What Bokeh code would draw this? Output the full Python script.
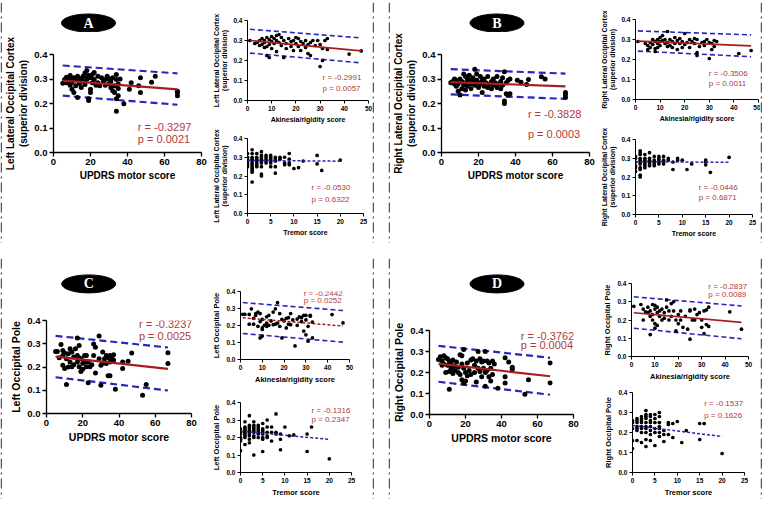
from bokeh.plotting import figure
from bokeh.layouts import row, column
from bokeh.models import Range1d, FixedTicker, NumeralTickFormatter, Label, Spacer
from bokeh.core.properties import value
from bokeh.embed import file_html
from bokeh.resources import INLINE

SANS = "Liberation Sans"
SERIF = "Liberation Serif"
RED_LINE = "#a81c1c"
RED_TEXT = "#b23a3a"
BLUE = "#2626b8"
BORDER = "#555555"

Y_TICKS = [0, 0.1, 0.2, 0.3, 0.4]
UPDRS_TICKS = [0, 20, 40, 60, 80]
AKIN_TICKS = [0, 10, 20, 30, 40, 50]
TREM_TICKS = [0, 5, 10, 15, 20, 25]

# ---------------- data: (score, value) pairs ----------------
A_updrs = [(5,.283),(6,.298),(7,.307),(7,.285),(8,.291),(8,.30),(9,.274),(9,.314),(10,.258),(10,.287),
           (10,.30),(11,.245),(11,.305),(12,.272),(12,.298),(13,.225),(13,.311),(14,.282),(14,.30),(15,.301),
           (15,.265),(16,.291),(16,.311),(17,.325),(17,.278),(18,.335),(18,.298),(18,.305),(19,.219),(19,.212),
           (19,.314),(20,.258),(20,.245),(20,.305),(21,.285),(21,.318),(22,.327),(22,.298),(23,.274),(24,.311),
           (24,.285),(25,.272),(26,.305),(27,.291),(28,.274),(28,.298),(29,.311),(30,.282),(30,.301),(31,.265),
           (31,.291),(32,.252),(32,.305),(33,.272),(33,.245),(34,.168),(34,.219),(34,.298),(34,.318),(35,.261),
           (35,.232),(35,.28),(36,.30),(38,.199),(41,.258),(42,.285),(46,.272),(47,.305),(47,.245),(53,.287),
           (55,.311),(67,.245),(67,.232),(67,.25)]
A_akin = [(1,.30),(3,.285),(4,.29),(5,.30),(5,.275),(6,.31),(6,.28),(7,.265),(7,.30),(7,.29),(8,.315),(8,.27),
          (8,.225),(9,.305),(9,.28),(9,.215),(10,.32),(10,.295),(10,.26),(11,.31),(11,.285),(12,.325),(12,.30),
          (12,.245),(13,.33),(13,.29),(14,.275),(14,.315),(15,.30),(15,.215),(16,.285),(16,.26),(17,.31),(18,.295),
          (18,.27),(19,.30),(19,.25),(20,.285),(20,.315),(21,.31),(21,.27),(22,.295),(22,.25),(23,.285),(24,.30),
          (24,.265),(25,.28),(25,.235),(26,.29),(26,.225),(27,.30),(28,.275),(29,.30),(30,.28),(30,.17),(31,.20),
          (31,.26),(32,.30),(33,.255),(33,.31),(42,.232),(47,.248)]
A_trem = [(0,[.32,.30,.29,.28,.27,.26,.25]),(1,[.34,.32,.30,.29,.28,.27,.26,.25,.24,.23,.22,.168]),
          (2,[.32,.30,.29,.28,.27,.26,.25]),(3,[.33,.31,.30,.29,.28,.27,.25,.21,.20]),(4,[.31,.30,.29,.28,.27]),
          (5,[.31,.30,.29,.28,.27,.25]),(6,[.30,.29,.28,.25,.215]),(7,[.30,.29]),(8,[.30,.27,.26]),
          (9,[.32,.29,.27,.26]),(10,[.24]),(11,[.245]),(12,[.28]),(15,[.31,.265]),(16,[.23]),(20,[.285])]

B_updrs = [(5,.285),(6,.29),(7,.28),(7,.30),(8,.27),(8,.295),(9,.25),(9,.28),(10,.235),(10,.30),(11,.26),(11,.29),
           (12,.32),(12,.275),(13,.31),(13,.285),(13,.255),(14,.30),(14,.27),(15,.295),(15,.315),(16,.28),(16,.26),
           (17,.305),(17,.29),(18,.34),(18,.275),(19,.32),(19,.295),(20,.285),(20,.265),(21,.31),(21,.28),(22,.295),
           (22,.245),(23,.27),(23,.30),(24,.285),(25,.265),(25,.31),(26,.28),(27,.29),(27,.26),(28,.30),(28,.275),
           (29,.285),(30,.265),(30,.31),(31,.28),(32,.29),(32,.26),(33,.305),(33,.275),(34,.33),(34,.21),(34,.20),
           (35,.24),(35,.285),(36,.235),(36,.295),(37,.24),(37,.30),(41,.295),(43,.287),(46,.278),(47,.298),
           (54,.309),(56,.30),(67,.245),(67,.236),(67,.225)]
B_akin = [(1,.29),(4,.28),(5,.25),(5,.27),(6,.285),(6,.26),(7,.30),(7,.275),(8,.29),(8,.255),(8,.24),(9,.30),
          (9,.28),(9,.26),(10,.31),(10,.29),(10,.27),(11,.295),(11,.32),(12,.28),(12,.30),(13,.34),(13,.285),
          (13,.265),(14,.30),(14,.27),(15,.29),(15,.26),(16,.31),(16,.28),(17,.295),(17,.25),(18,.305),(18,.28),
          (19,.29),(19,.26),(20,.33),(20,.275),(21,.285),(22,.30),(22,.26),(23,.29),(24,.305),(24,.28),(25,.30),
          (25,.235),(25,.22),(26,.265),(27,.285),(28,.29),(28,.27),(29,.30),(30,.285),(30,.205),(31,.28),(31,.25),
          (32,.295),(32,.265),(33,.29),(42,.23),(47,.245)]
B_trem = [(0,[.31,.30,.28,.26,.25,.23]),(1,[.34,.33,.32,.30,.29,.28,.27,.25,.24,.21,.20]),
          (2,[.32,.30,.29,.28,.27,.26,.25]),(3,[.33,.30,.29,.28,.27,.26]),(4,[.31,.29,.28,.27,.26]),
          (5,[.31,.30,.29,.28,.27]),(6,[.31,.29,.28,.27]),(7,[.30,.29]),(8,[.28,.24]),(9,[.30,.29]),
          (10,[.29]),(11,[.24]),(12,[.27]),(15,[.29,.28,.265]),(16,[.225]),(20,[.305])]

C_updrs = [(5,.267),(6,.267),(7,.24),(8,.297),(9,.25),(9,.208),(9,.271),(10,.194),(10,.26),(11,.125),(11,.236),
           (12,.257),(12,.20),(13,.278),(13,.222),(14,.201),(14,.264),(15,.243),(15,.21),(16,.278),(17,.325),
           (17,.222),(17,.25),(18,.201),(18,.292),(18,.24),(19,.236),(19,.181),(20,.215),(20,.19),(21,.25),
           (21,.222),(22,.201),(22,.25),(23,.132),(23,.222),(24,.201),(25,.21),(26,.299),(26,.25),(27,.174),
           (27,.285),(29,.333),(29,.236),(30,.208),(30,.122),(31,.215),(31,.264),(32,.236),(32,.22),(33,.25),
           (33,.215),(34,.162),(34,.24),(35,.162),(35,.222),(35,.25),(36,.236),(37,.253),(37,.23),(38,.104),
           (42,.194),(42,.222),(45,.225),(47,.26),(53,.078),(55,.125),(67,.261),(67,.215)]
C_akin = [(1,.266),(2,.266),(4,.265),(4,.208),(5,.298),(6,.242),(6,.208),(7,.27),(7,.26),(8,.279),(8,.195),
          (9,.127),(9,.223),(9,.27),(10,.177),(10,.186),(10,.236),(10,.138),(11,.201),(12,.251),(12,.195),
          (12,.214),(13,.26),(13,.201),(14,.227),(15,.205),(15,.279),(16,.298),(16,.208),(17,.335),(17,.214),
          (18,.195),(18,.27),(19,.127),(19,.236),(20,.227),(21,.242),(21,.186),(22,.208),(22,.246),(23,.27),
          (23,.205),(24,.233),(25,.08),(26,.238),(26,.201),(27,.251),(28,.223),(28,.246),(29,.26),(29,.167),
          (30,.233),(30,.26),(30,.145),(31,.108),(31,.195),(32,.26),(32,.255),(33,.22),(33,.127),(42,.264),(47,.215)]
C_trem = [(0,[.25,.23,.22,.20,.19,.18,.125]),(1,[.29,.26,.25,.24,.23,.22,.21,.20,.16]),
          (2,[.325,.27,.26,.25,.24,.23,.22,.21,.19,.17]),(3,[.29,.27,.26,.25,.24,.23,.21,.20,.10]),
          (4,[.27,.26,.25,.24,.23,.22,.20]),(5,[.28,.25,.24,.23,.22,.20,.19,.12]),(6,[.30,.26,.23,.21,.20]),
          (7,[.26,.23,.18]),(8,[.335,.23,.22]),(9,[.22,.19,.13]),(10,[.26]),(11,[.21]),(12,[.215]),
          (15,[.22,.12]),(16,[.26]),(20,[.078])]

D_updrs = [(5,.262),(6,.275),(7,.255),(7,.235),(8,.28),(8,.24),(9,.27),(9,.20),(10,.265),(10,.235),(11,.12),
           (11,.255),(11,.205),(12,.245),(12,.22),(13,.26),(13,.195),(14,.23),(14,.21),(15,.25),(16,.225),(16,.20),
           (17,.285),(17,.19),(18,.28),(18,.24),(18,.165),(19,.31),(19,.22),(19,.15),(20,.20),(20,.16),(21,.245),
           (21,.185),(22,.21),(23,.26),(23,.19),(24,.265),(25,.235),(25,.20),(26,.155),(26,.255),(27,.30),(27,.22),
           (28,.265),(28,.205),(29,.25),(29,.18),(30,.255),(30,.22),(31,.30),(31,.135),(31,.20),(32,.255),(32,.21),
           (33,.245),(33,.18),(34,.22),(34,.16),(35,.255),(35,.19),(36,.24),(38,.125),(42,.27),(42,.18),(42,.15),
           (44,.25),(46,.225),(46,.215),(53,.097),(55,.165),(67,.245),(67,.15)]
D_akin = [(1,.275),(4,.285),(5,.26),(5,.20),(6,.245),(7,.27),(7,.24),(8,.22),(8,.12),(8,.25),(9,.285),(9,.23),
          (9,.20),(10,.28),(10,.26),(10,.155),(10,.18),(11,.27),(11,.24),(11,.17),(12,.25),(12,.22),(13,.26),
          (13,.20),(14,.24),(14,.21),(15,.31),(15,.27),(16,.20),(16,.25),(17,.29),(17,.22),(18,.30),(18,.25),
          (19,.14),(19,.20),(20,.23),(20,.18),(21,.25),(21,.20),(22,.16),(23,.22),(24,.15),(25,.255),(25,.25),
          (25,.095),(26,.20),(27,.26),(27,.20),(28,.23),(29,.24),(30,.16),(30,.20),(31,.125),(31,.25),(32,.255),
          (32,.175),(33,.27),(33,.165),(42,.245),(47,.15)]
D_trem = [(0,[.26,.25,.22,.16,.12]),(1,[.27,.26,.25,.23,.22,.21,.16]),(2,[.28,.27,.26,.25,.23,.22,.20,.15]),
          (3,[.31,.29,.28,.27,.25,.23,.22,.20,.165,.13]),(4,[.29,.28,.26,.25,.23,.21,.19,.16]),
          (5,[.29,.27,.25,.22,.20,.135]),(6,[.30,.28,.25,.23,.22,.20,.18]),(7,[.21,.19,.155]),(8,[.25,.24,.19]),
          (9,[.245,.175]),(10,[.255]),(11,[.15]),(12,[.21]),(15,[.245,.165]),(16,[.245]),(20,[.095])]

# regression line and 95% prediction band end points
A_updrs_fit = dict(x=[5, 67], fit=[0.293, 0.258], up=[0.355, 0.323], lo=[0.232, 0.195])
A_akin_fit = dict(x=[1, 47], fit=[0.300, 0.248], up=[0.356, 0.313], lo=[0.237, 0.188])
A_trem_fit = dict(x=[0, 20], fit=[0.283, 0.279])
B_updrs_fit = dict(x=[5, 67], fit=[0.287, 0.270], up=[0.340, 0.322], lo=[0.237, 0.219])
B_akin_fit = dict(x=[1, 47], fit=[0.292, 0.268], up=[0.343, 0.323], lo=[0.242, 0.214])
B_trem_fit = dict(x=[0, 20], fit=[0.282, 0.278])
C_updrs_fit = dict(x=[5, 67], fit=[0.245, 0.192], up=[0.334, 0.284], lo=[0.156, 0.099])
C_akin_fit = dict(x=[1, 47], fit=[0.245, 0.197], up=[0.335, 0.288], lo=[0.153, 0.102])
C_trem_fit = dict(x=[0, 20], fit=[0.237, 0.189])
D_updrs_fit = dict(x=[5, 67], fit=[0.242, 0.182], up=[0.327, 0.270], lo=[0.156, 0.094])
D_akin_fit = dict(x=[1, 47], fit=[0.240, 0.187], up=[0.327, 0.277], lo=[0.155, 0.097])
D_trem_fit = dict(x=[0, 20], fit=[0.235, 0.180])

A_stats = [("r = -0.3297", "p = 0.0021"), ("r = -0.2991", "p = 0.0057"), ("r = -0.0530", "p = 0.6322")]
B_stats = [("r = -0.3828", "p = 0.0003"), ("r = -0.3506", "p = 0.0011"), ("r = -0.0446", "p = 0.6871")]
C_stats = [("r = -0.3237", "p = 0.0025"), ("r = -0.2442", "p = 0.0252"), ("r = -0.1316", "p = 0.2347")]
D_stats = [("r = -0.3762", "p = 0.0004"), ("r = -0.2837", "p = 0.0089"), ("r = -0.1537", "p = 0.1626")]

X_LABELS = ["UPDRS motor score", "Akinesia/rigidity score", "Tremor score"]
Y_LABELS = {"A": "Left Lateral Occipital Cortex\n(superior division)",
            "B": "Right Lateral Occipital Cortex\n(superior division)",
            "C": "Left Occipital Pole",
            "D": "Right Occipital Pole"}

# ---------------- layout (pixels, quadrant-local) ----------------
STYLE = {
    "big": dict(tick="9.5px", stat="11px", size=5.0, lw=2.2, dash="7 4", tout=4, axw=1.3),
    "small": dict(tick="6.5px", stat="8px", size=3.7, lw=1.6, dash="5 3", tout=3, axw=1.0),
}

QUAD = {
    "A": dict(LW=205, HH=30, ell=(86, 20.5), H1=125, blab="10px", slab="7px",
              big=(46, 21.5, 152.8, 98.4), s1=(40.5, 17.9, 121, 79.9), s2=(39.8, 11.2, 116, 74.7),
              pos=[(45.6, 0.105, 0.055), (31, 0.117, 0.061), (13.8, 0.14, 0.077)]),
    "B": dict(LW=205, HH=30, ell=(106.5, 20.5), H1=125, blab="10px", slab="7px",
              big=(48.6, 21.5, 150.3, 98.4), s1=(40.5, 17.3, 122.3, 79.8), s2=(40.5, 11.9, 116, 75),
              pos=[(46.7, 0.159, 0.076), (29.8, 0.132, 0.078), (13.5, 0.143, 0.091)]),
    "C": dict(LW=195, HH=40, ell=(86.2, 25.4), H1=128, blab="10.5px", slab="7.5px",
              big=(43.7, 21.6, 145.4, 93.9), s1=(42.6, 33.2, 109.2, 70), s2=(42.6, 15.7, 111, 70.1),
              pos=[(51, 0.385, 0.333), (29, 0.386, 0.346), (16.0, 0.352, 0.303)]),
    "D": dict(LW=195, HH=40, ell=(106.5, 25.4), H1=125, blab="10.5px", slab="7.5px",
              big=(39.1, 32.3, 144, 83.2), s1=(46.1, 24.7, 116.7, 76.7), s2=(47.1, 8.9, 112, 80.9),
              pos=[(50.7, 0.373, 0.332), (32.8, 0.385, 0.337), (16.0, 0.343, 0.287)]),
}
CW, CH = 370, 241
BOX_W, BOX_H = 374, 245
GAP_W, GAP_H = 14, 11


def base_fig(w, h, xr, yr, **kw):
    p = figure(width=w, height=h, x_range=Range1d(*xr), y_range=Range1d(*yr),
               toolbar_location=None, output_backend="svg", frame_align=False, **kw)
    p.grid.visible = False
    p.outline_line_color = None
    p.background_fill_color = "white"
    p.border_fill_color = "white"
    return p


def panel(fw, fh, frame, kind, lab_size, xmax, xticks, xlabel, ylabel, xs, ys, fit, stat, pos, fit_style):
    st = STYLE[kind]
    fl, ft, fwd, fht = frame
    p = base_fig(fw, fh, (0, xmax), (0, 0.4),
                 min_border_left=int(round(fl)), min_border_top=int(round(ft)),
                 min_border_right=max(0, int(round(fw - fl - fwd))),
                 min_border_bottom=max(0, int(round(fh - ft - fht))))
    p.xaxis.ticker = FixedTicker(ticks=xticks)
    p.yaxis.ticker = FixedTicker(ticks=Y_TICKS)
    p.yaxis.formatter = NumeralTickFormatter(format="0.0")
    p.xaxis.axis_label = xlabel
    p.yaxis.axis_label = ylabel
    ax = p.axis
    ax.axis_label_text_font = SANS
    ax.axis_label_text_font_style = "bold"
    ax.axis_label_text_font_size = lab_size
    ax.axis_label_text_color = "black"
    ax.major_label_text_font = SANS
    ax.major_label_text_font_style = "bold"
    ax.major_label_text_font_size = st["tick"]
    ax.major_label_text_color = "black"
    ax.minor_tick_line_color = None
    ax.major_tick_in = 0
    ax.major_tick_out = st["tout"]
    ax.axis_line_width = st["axw"]
    ax.major_tick_line_width = st["axw"]
    ax.axis_label_standoff = 2
    ax.major_label_standoff = 2

    if fit_style in ("band", "band_dotted"):
        p.line(fit["x"], fit["up"], line_color=BLUE, line_width=st["lw"], line_dash=st["dash"])
        p.line(fit["x"], fit["lo"], line_color=BLUE, line_width=st["lw"], line_dash=st["dash"])
    p.scatter(xs, ys, size=st["size"], fill_color="black", line_color=None)
    if fit_style == "band":
        p.line(fit["x"], fit["fit"], line_color=RED_LINE, line_width=st["lw"])
    elif fit_style == "band_dotted":
        p.line(fit["x"], fit["fit"], line_color=RED_LINE, line_width=1.5, line_dash="3 2")
    else:
        p.line(fit["x"], fit["fit"], line_color=BLUE, line_width=1.5, line_dash="3 2")

    for txt, yy in ((stat[0], pos[1]), (stat[1], pos[2])):
        p.add_layout(Label(x=pos[0], y=yy, text=txt, text_color=RED_TEXT, text_font=SANS,
                           text_font_size=st["stat"], text_align="left", text_baseline="middle",
                           level="overlay"))
    return p


def header(w, h, cx, cy, letter):
    p = base_fig(w, h, (0, w), (0, h), min_border=0, x_axis_type=None, y_axis_type=None)
    p.ellipse(x=[cx], y=[h - cy], width=54, height=18, fill_color="black", line_color="black")
    p.text(x=[cx], y=[h - cy], text=[letter], text_color="white", text_font=value(SERIF),
           text_font_size="14px", text_font_style="bold", text_align="center", text_baseline="middle")
    return p


def bline(w, h, horizontal):
    p = base_fig(w, h, (0, w), (0, h), min_border=0, x_axis_type=None, y_axis_type=None)
    if horizontal:
        p.line([0, w], [h / 2, h / 2], line_color=BORDER, line_width=2, line_dash="10 4 2 4")
    else:
        p.line([w / 2, w / 2], [h, 0], line_color=BORDER, line_width=2, line_dash="10 4 2 4")
    return p


def unpack_pairs(pairs):
    return [a for a, b in pairs], [b for a, b in pairs]


def unpack_cols(cols):
    xs, ys = [], []
    for score, vals in cols:
        for v in vals:
            xs.append(score)
            ys.append(v)
    return xs, ys


DATA = {
    "A": (A_updrs, A_akin, A_trem, A_updrs_fit, A_akin_fit, A_trem_fit, A_stats),
    "B": (B_updrs, B_akin, B_trem, B_updrs_fit, B_akin_fit, B_trem_fit, B_stats),
    "C": (C_updrs, C_akin, C_trem, C_updrs_fit, C_akin_fit, C_trem_fit, C_stats),
    "D": (D_updrs, D_akin, D_trem, D_updrs_fit, D_akin_fit, D_trem_fit, D_stats),
}


def quadrant(key):
    q = QUAD[key]
    upd, akin, trem, f_u, f_a, f_t, stats = DATA[key]
    LW, HH, H1 = q["LW"], q["HH"], q["H1"]
    RW = CW - LW
    ylab = Y_LABELS[key]
    hx = header(LW, HH, q["ell"][0], q["ell"][1], key)
    ux, uy = unpack_pairs(upd)
    big = panel(LW, CH - HH, q["big"], "big", q["blab"], 80, UPDRS_TICKS, X_LABELS[0], ylab, ux, uy,
                f_u, stats[0], q["pos"][0], "band")
    ax_, ay_ = unpack_pairs(akin)
    s1 = panel(RW, H1, q["s1"], "small", q["slab"], 50, AKIN_TICKS, X_LABELS[1], ylab, ax_, ay_,
               f_a, stats[1], q["pos"][1], "band_dotted" if key == "C" else "band")
    tx, ty = unpack_cols(trem)
    s2 = panel(RW, CH - H1, q["s2"], "small", q["slab"], 25, TREM_TICKS, X_LABELS[2], ylab, tx, ty,
               f_t, stats[2], q["pos"][2], "dotted")
    content = row(column(hx, big), column(s1, s2))
    return column(bline(BOX_W, 2, True),
                  row(bline(2, CH, False), content, bline(2, CH, False)),
                  bline(BOX_W, 2, True))


layout = column(
    row(quadrant("A"), Spacer(width=GAP_W, height=BOX_H), quadrant("B")),
    Spacer(width=2 * BOX_W + GAP_W, height=GAP_H),
    row(quadrant("C"), Spacer(width=GAP_W, height=BOX_H), quadrant("D")),
)

open("out.html", "w").write(file_html(layout, INLINE))
